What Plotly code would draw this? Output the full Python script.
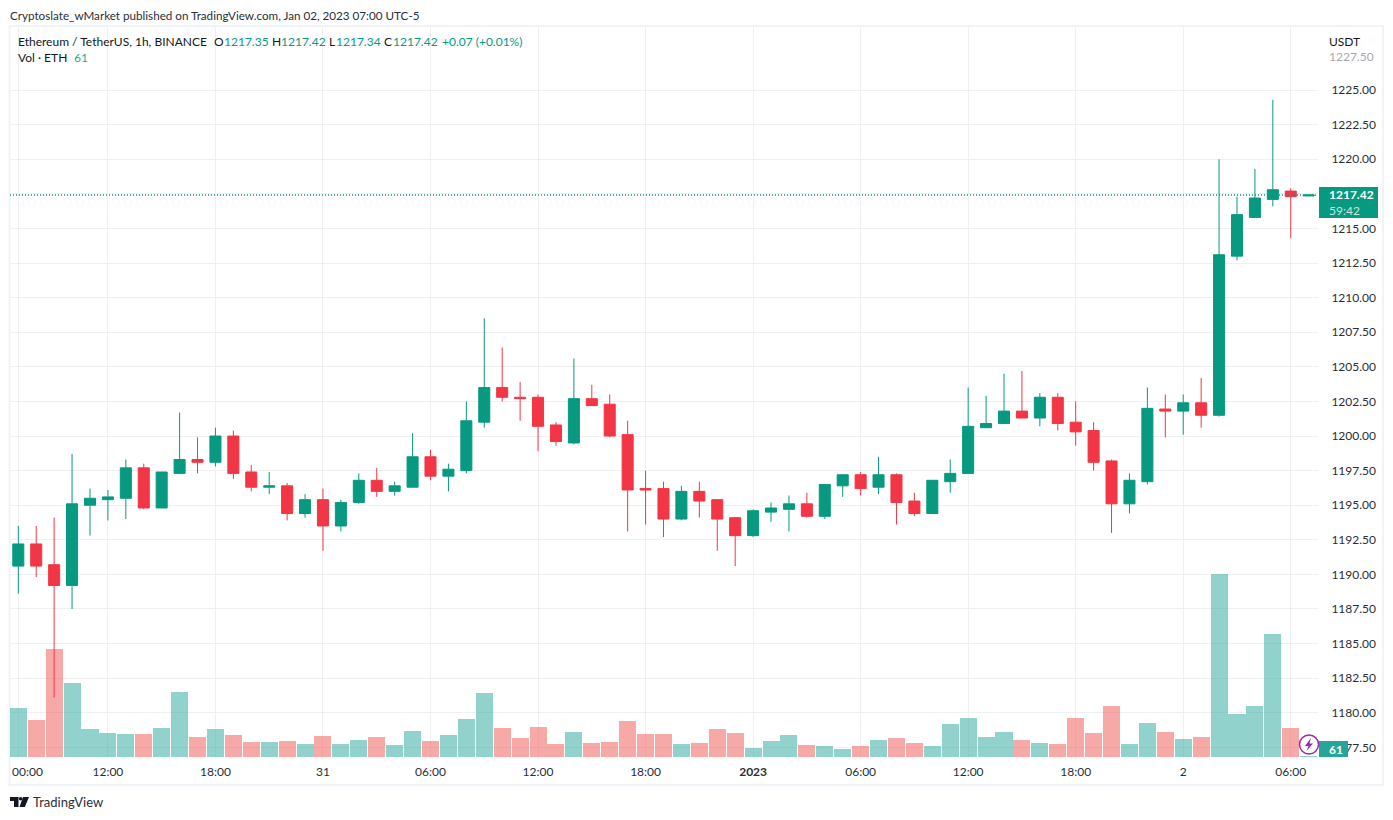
import plotly.graph_objects as go

opens = [1190.6,1192.2,1190.7,1189.2,1195.0,1195.4,1195.5,1197.7,1194.8,1197.3,1198.3,1198.1,1200.0,1197.4,1196.3,1196.4,
         1194.4,1195.4,1193.5,1195.2,1196.8,1196.0,1196.3,1198.5,1197.1,1197.5,1201.0,1203.5,1202.8,1202.8,1200.8,1199.5,
         1202.7,1202.3,1200.1,1196.2,1196.2,1194.0,1196.0,1195.4,1194.1,1192.8,1194.5,1194.7,1195.1,1194.2,1196.4,1197.2,
         1196.3,1197.2,1195.3,1194.4,1196.7,1197.3,1200.6,1200.9,1201.8,1201.3,1202.8,1201.0,1200.4,1198.2,1195.1,1196.7,
         1201.95,1201.8,1202.4,1201.5,1213.0,1215.8,1217.1,1217.7,1217.35]
highs = [1193.5,1193.5,1194.1,1198.7,1196.2,1196.1,1198.3,1198.0,1197.4,1201.7,1199.9,1200.6,1200.4,1197.9,1197.4,1196.6,
         1195.8,1196.2,1195.4,1197.3,1197.7,1196.7,1200.2,1199.0,1198.0,1202.5,1208.5,1206.4,1203.9,1203.0,1201.0,1205.6,
         1203.7,1203.0,1201.1,1197.5,1196.7,1196.4,1196.7,1195.4,1194.1,1194.7,1195.2,1195.7,1195.9,1196.5,1197.2,1197.4,
         1198.5,1197.3,1195.9,1196.8,1198.3,1203.5,1202.9,1204.5,1204.7,1203.1,1203.1,1202.5,1201.0,1198.3,1197.3,1203.5,
         1203.0,1203.0,1204.2,1220.0,1217.3,1219.3,1224.3,1217.9,1217.42]
lows = [1188.6,1189.8,1181.1,1187.5,1192.8,1193.9,1194.0,1194.7,1194.8,1197.3,1197.3,1197.8,1196.9,1196.0,1195.8,1193.9,
        1194.1,1191.7,1193.1,1195.1,1195.6,1195.7,1196.3,1196.8,1196.0,1197.3,1200.6,1202.5,1201.1,1198.9,1199.3,1199.4,
        1202.2,1199.9,1193.1,1193.6,1192.7,1193.9,1194.1,1191.7,1190.6,1192.7,1193.8,1193.1,1194.1,1194.0,1195.6,1195.7,
        1195.8,1193.6,1194.2,1194.4,1195.9,1197.3,1200.6,1200.9,1201.3,1200.7,1200.4,1199.3,1197.5,1193.0,1194.4,1196.5,
        1199.9,1200.1,1200.6,1201.4,1212.7,1215.8,1216.6,1214.3,1217.34]
closes = [1192.2,1190.6,1189.2,1195.1,1195.5,1195.6,1197.7,1194.8,1197.4,1198.3,1198.1,1200.0,1197.3,1196.3,1196.4,1194.4,
          1195.4,1193.5,1195.2,1196.8,1196.0,1196.4,1198.5,1197.1,1197.6,1201.1,1203.5,1202.8,1202.7,1200.7,1199.6,1202.7,
          1202.2,1200.0,1196.1,1196.1,1194.0,1196.0,1195.3,1194.0,1192.8,1194.6,1194.8,1195.1,1194.2,1196.5,1197.2,1196.2,
          1197.2,1195.2,1194.4,1196.8,1197.3,1200.7,1200.9,1201.8,1201.3,1202.8,1200.9,1200.3,1198.1,1195.1,1196.8,1202.0,
          1201.8,1202.4,1201.5,1213.1,1216.0,1217.2,1217.8,1217.3,1217.42]
volumes = [2300,1740,5080,3480,1320,1130,1080,1080,1360,3060,940,1320,1030,700,700,750,
           610,990,610,800,940,560,1220,750,1030,1790,3010,1360,890,1410,610,1180,
           660,700,1690,1080,1080,610,660,1320,1130,420,750,1030,560,520,380,520,
           800,890,660,520,1550,1830,940,1180,800,660,610,1830,1130,2400,610,1600,
           1180,850,940,8600,2020,2400,5780,1360,61]
bar_index = list(range(len(closes)))

time_ticks = [0,5,11,17,23,29,35,41,47,53,59,65,71]
time_labels = ["","12:00","18:00","31","06:00","12:00","18:00","<b>2023</b>","06:00","12:00","18:00","2","06:00"]
price_ticks = [1177.5+2.5*k for k in range(20)]
last_close = closes[-1]

GREEN, RED = "#089981", "#F23645"
VOL_GREEN, VOL_RED = "rgba(38,166,154,0.5)", "rgba(239,83,80,0.5)"
GRID, FRAME, TEXT = "#f0f0f2", "#f0f3fa", "#131722"
FONT = "Lato, sans-serif"
L, R, T, B = 10, 1318, 27, 758
def px(x): return (x-L)/(R-L)
def py(y): return 1-(y-T)/(B-T)

fig = go.Figure()
fig.add_trace(go.Bar(x=bar_index, y=volumes, width=0.95, hoverinfo="skip",
                     marker=dict(color=[VOL_GREEN if c >= o else VOL_RED for o, c in zip(opens, closes)], line_width=0)))
fig.add_trace(go.Candlestick(x=bar_index, open=opens, high=highs, low=lows, close=closes, yaxis="y2",
                             hoverinfo="skip", whiskerwidth=0,
                             increasing=dict(line=dict(color=GREEN, width=1), fillcolor=GREEN),
                             decreasing=dict(line=dict(color=RED, width=1), fillcolor=RED)))

shapes = [
    dict(type="line", xref="paper", yref="y2", x0=0, x1=1, y0=last_close, y1=last_close, layer="above",
         line=dict(color=GREEN, width=1.6, dash="1px,2px")),
    dict(type="rect", xref="paper", yref="paper", x0=px(L-0.5), x1=px(1383), y0=py(26), y1=py(785), layer="below",
         line=dict(color=FRAME, width=2)),
    dict(type="rect", xref="paper", yref="paper", x0=px(1319), x1=px(1378), y0=py(187), y1=py(218), layer="above",
         fillcolor=GREEN, line_width=0),
    dict(type="rect", xref="paper", yref="paper", x0=px(1319), x1=px(1348), y0=py(741), y1=py(757), layer="above",
         fillcolor="#26a69a", line_width=0),
    dict(type="circle", xref="paper", yref="paper", x0=px(1299.5), x1=px(1318.5), y0=py(735), y1=py(754), layer="above",
         fillcolor="white", line=dict(color="#9c27b0", width=1.5)),
]
def path(points):
    return "M " + " L ".join(f"{px(a):.5f},{py(b):.5f}" for a, b in points) + " Z"
def add_path(points, color):
    shapes.append(dict(type="path", xref="paper", yref="paper", path=path(points), fillcolor=color, line_width=0, layer="above"))
add_path([(1311,738),(1305,746),(1308.5,746),(1306.5,751),(1313,743.5),(1309.5,743.5)], "#9c27b0")
add_path([(10,797),(18.5,797),(18.5,807),(14,807),(14,801),(10,801)], TEXT)
add_path([(23,797),(29,797),(24.8,807),(19.5,807)], TEXT)
shapes.append(dict(type="circle", xref="paper", yref="paper", x0=px(18.8), x1=px(22.4), y0=py(797), y1=py(800.6),
                   fillcolor=TEXT, line_width=0, layer="above"))

annotations = []
def label(x, y, text, color=TEXT, size=12, anchor="left"):
    annotations.append(dict(xref="paper", yref="paper", x=px(x-1), y=py(y), text=text, showarrow=False,
                            xanchor=anchor, yanchor="middle", align="left",
                            font=dict(family=FONT, size=size, color=color), borderpad=0))
label(10, 15, "Cryptoslate_wMarket published on TradingView.com, Jan 02, 2023 07:00 UTC-5", "#2a2e39", 11.66)
label(18, 42, "Ethereum / TetherUS, 1h, BINANCE")
for x, t, c in [(214,"O",TEXT),(223.5,"1217.35",GREEN),(271.5,"H",TEXT),(280.5,"1217.42",GREEN),(329,"L",TEXT),
                (336,"1217.34",GREEN),(384,"C",TEXT),(393,"1217.42",GREEN),(441.5,"+0.07 (+0.01%)",GREEN)]:
    label(x, 42, t, c)
label(18, 58, "Vol · ETH")
label(74, 58, "61", "#26a69a")
label(1329, 41, "USDT")
label(1329, 56.5, "1227.50", "#a6a8af")
label(1329, 202.5, "<b>1217.42</b><br><span style='color:#c6e6e0'>59:42</span>", "white")
label(1329, 749, "<b>61</b>", "white")
label(12, 771, "00:00", "#2a2e39")
label(33, 802, "TradingView", "#2a2e39", 13)

fig.update_layout(
    width=1393, height=820, margin=dict(l=L, r=1393-R, t=T, b=820-B),
    paper_bgcolor="white", plot_bgcolor="white", showlegend=False, boxgap=0.12, bargap=0,
    font=dict(family=FONT, size=12, color=TEXT),
    xaxis=dict(range=[-0.463, 72.52], tickmode="array", tickvals=time_ticks, ticktext=time_labels,
               rangeslider=dict(visible=False), showgrid=True, gridcolor=GRID, gridwidth=1, zeroline=False,
               showline=False, ticks="outside", ticklen=3, tickcolor="rgba(0,0,0,0)", tickfont=dict(color="#2a2e39", size=12)),
    yaxis=dict(range=[-47, 34310], visible=False, showgrid=False, zeroline=False),
    yaxis2=dict(range=[1176.73, 1229.56], overlaying="y", side="right", tickmode="array",
                tickvals=[p for p in price_ticks if p < 1227], ticktext=[f"{p:.2f}" for p in price_ticks if p < 1227],
                showgrid=True, gridcolor=GRID, gridwidth=1, zeroline=False, showline=False,
                ticks="outside", ticklen=10, tickcolor="rgba(0,0,0,0)", tickfont=dict(color="#2a2e39", size=12)),
    shapes=shapes, annotations=annotations,
)
fig.write_html("out.html", post_script="document.body.style.margin='0';", config=dict(displayModeBar=False))
